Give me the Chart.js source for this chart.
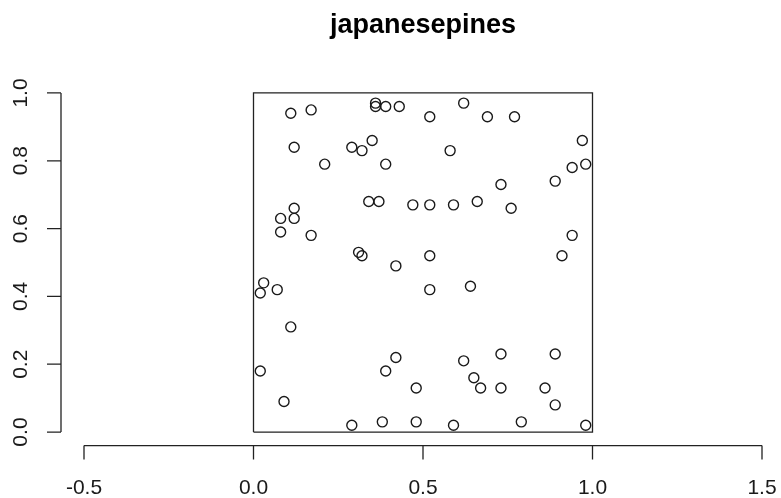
<!DOCTYPE html>
<html>
<head>
<meta charset="utf-8">
<script src="https://cdn.jsdelivr.net/npm/chart.js@4/dist/chart.umd.min.js"></script>
<style>
  html, body { margin: 0; padding: 0; background: #ffffff; }
  #wrap { width: 781px; height: 498px; }
</style>
</head>
<body>
<div id="wrap"><canvas id="c" width="781" height="498"></canvas></div>
<script>
// Japanese black pine saplings, rescaled to the unit square
const pineX = [0.09, 0.29, 0.38, 0.39, 0.48, 0.59, 0.65, 0.67, 0.73, 0.79, 0.86, 0.89, 0.98,
               0.02, 0.11, 0.42, 0.62, 0.73, 0.89, 0.03, 0.07, 0.52, 0.64, 0.02, 0.12,
               0.31, 0.32, 0.42, 0.52, 0.91, 0.08, 0.12, 0.17, 0.94, 0.08, 0.12, 0.34,
               0.37, 0.47, 0.52, 0.59, 0.66, 0.76, 0.21, 0.39, 0.73, 0.89, 0.94, 0.98,
               0.29, 0.32, 0.35, 0.58, 0.97, 0.11, 0.17, 0.36, 0.36, 0.39, 0.43, 0.52,
               0.62, 0.69, 0.77, 0.48];
const pineY = [0.09, 0.02, 0.03, 0.18, 0.03, 0.02, 0.16, 0.13, 0.13, 0.03, 0.13, 0.08, 0.02,
               0.18, 0.31, 0.22, 0.21, 0.23, 0.23, 0.44, 0.42, 0.52, 0.43, 0.41, 0.63,
               0.53, 0.52, 0.49, 0.42, 0.52, 0.59, 0.66, 0.58, 0.58, 0.63, 0.84, 0.68,
               0.68, 0.67, 0.67, 0.67, 0.68, 0.66, 0.79, 0.79, 0.73, 0.74, 0.78, 0.79,
               0.84, 0.83, 0.86, 0.83, 0.86, 0.94, 0.95, 0.97, 0.96, 0.96, 0.96, 0.93,
               0.97, 0.93, 0.93, 0.13];

// Observation window (unit square), traced corner to corner
const windowX = [0, 1, 1, 0, 0];
const windowY = [0, 0, 1, 1, 0];

// Axis ticks
const xTicks = [-0.5, 0.0, 0.5, 1.0, 1.5];
const yTicks = [0.0, 0.2, 0.4, 0.6, 0.8, 1.0];
const titleText = 'japanesepines';

const FONT = '"Liberation Sans", Arial, Helvetica, sans-serif';

const points = pineX.map((x, i) => ({ x: x, y: pineY[i] }));
const windowPath = windowX.map((x, i) => ({ x: x, y: windowY[i] }));

// Base-graphics style axes: lines that only span the tick range, outward ticks
const baseAxes = {
  id: 'baseAxes',
  afterDraw(chart) {
    const ctx = chart.ctx;
    const xs = chart.scales.x, ys = chart.scales.y;
    const area = chart.chartArea;
    const tick = 14;
    ctx.save();
    ctx.strokeStyle = '#222222';
    ctx.lineWidth = 1.3;
    ctx.fillStyle = '#1a1a1a';

    // x axis
    const yAx = area.bottom;
    const x0 = xs.getPixelForValue(xTicks[0]);
    const x1 = xs.getPixelForValue(xTicks[xTicks.length - 1]);
    ctx.beginPath();
    ctx.moveTo(x0, yAx); ctx.lineTo(x1, yAx);
    xTicks.forEach(v => {
      const p = xs.getPixelForValue(v);
      ctx.moveTo(p, yAx); ctx.lineTo(p, yAx + tick);
    });
    ctx.stroke();
    ctx.font = '21px ' + FONT;
    ctx.textAlign = 'center';
    ctx.textBaseline = 'middle';
    xTicks.forEach(v => {
      ctx.fillText(v.toFixed(1), xs.getPixelForValue(v), 488);
    });

    // y axis
    const xAx = area.left;
    const yb = ys.getPixelForValue(yTicks[0]);
    const yt = ys.getPixelForValue(yTicks[yTicks.length - 1]);
    ctx.beginPath();
    ctx.moveTo(xAx, yb); ctx.lineTo(xAx, yt);
    yTicks.forEach(v => {
      const p = ys.getPixelForValue(v);
      ctx.moveTo(xAx, p); ctx.lineTo(xAx - tick, p);
    });
    ctx.stroke();
    yTicks.forEach(v => {
      ctx.save();
      ctx.translate(21, ys.getPixelForValue(v));
      ctx.rotate(-Math.PI / 2);
      ctx.fillText(v.toFixed(1), 0, 0);
      ctx.restore();
    });

    // title
    ctx.font = 'bold 27px ' + FONT;
    ctx.fillStyle = '#000000';
    ctx.textBaseline = 'alphabetic';
    ctx.fillText(titleText, xs.getPixelForValue(0.5), 33);
    ctx.restore();
  }
};

new Chart(document.getElementById('c'), {
  type: 'scatter',
  data: {
    datasets: [
      {
        label: 'window',
        data: windowPath,
        showLine: true,
        borderColor: '#222222',
        borderWidth: 1.3,
        pointRadius: 0,
        fill: false,
        tension: 0,
        order: 2
      },
      {
        label: 'pines',
        data: points,
        pointStyle: 'circle',
        pointRadius: 5,
        pointBorderWidth: 1.4,
        pointBorderColor: '#1a1a1a',
        pointBackgroundColor: 'rgba(0,0,0,0)',
        showLine: false,
        order: 1
      }
    ]
  },
  options: {
    responsive: false,
    animation: false,
    devicePixelRatio: 1,
    clip: false,
    layout: { autoPadding: false, padding: { left: 61, right: 0, top: 79.4, bottom: 52.4 } },
    scales: {
      x: { type: 'linear', display: false, min: -(253.5 - 61) / 339, max: (781 - 253.5) / 339 },
      y: { type: 'linear', display: false, min: -0.04, max: 1.04 }
    },
    plugins: {
      legend: { display: false },
      tooltip: { enabled: false },
      title: { display: false }
    }
  },
  plugins: [baseAxes]
});
</script>
</body>
</html>
